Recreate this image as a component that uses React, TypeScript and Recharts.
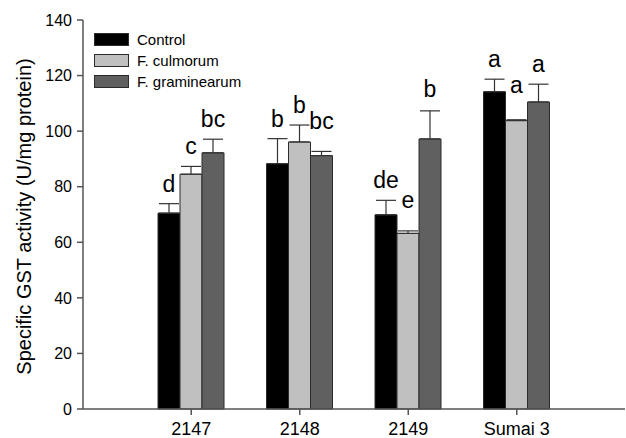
import React from 'react';
import { BarChart, Bar, XAxis, YAxis, ErrorBar, LabelList, Legend } from 'recharts';

// Genotypes along the x axis
const genotypes = ['2147', '2148', '2149', 'Sumai 3'];

// Mean GST activity (U/mg protein) and upper SE
const control = [70.5, 88.3, 69.9, 114.2];
const controlErr = [3.4, 9.0, 5.2, 4.5];
const culmorum = [84.5, 96.1, 63.2, 103.8];
const culmorumErr = [2.8, 6.1, 0.9, 0.3];
const graminearum = [92.2, 91.2, 97.2, 110.5];
const graminearumErr = [4.9, 1.5, 10.1, 6.4];

// Significance letters
const controlLetters = ['d', 'b', 'de', 'a'];
const culmorumLetters = ['c', 'b', 'e', 'a'];
const graminearumLetters = ['bc', 'bc', 'b', 'a'];

const yTicks = [0, 20, 40, 60, 80, 100, 120, 140];

const FONT = '"Liberation Sans", Arial, Helvetica, sans-serif';
const AXIS = '#555';
const OUTLINE = '#2b2b2b';

const series = [
  { key: 'control', name: 'Control', fill: '#000000', letters: controlLetters, errors: controlErr, lift: [0, 0, 0, 0] },
  { key: 'culmorum', name: 'F. culmorum', fill: '#c0c0c0', letters: culmorumLetters, errors: culmorumErr, lift: [0, 0, 11, 15] },
  { key: 'graminearum', name: 'F. graminearum', fill: '#606060', letters: graminearumLetters, errors: graminearumErr, lift: [0, 10, 2, 0] },
];

const data = genotypes.map((name, i) => ({
  name,
  control: control[i],
  controlErr: [0, controlErr[i]],
  culmorum: culmorum[i],
  culmorumErr: [0, culmorumErr[i]],
  graminearum: graminearum[i],
  graminearumErr: [0, graminearumErr[i]],
}));

// letter sitting just above the error bar cap
const letterLabel = (letters: string[], errors: number[], lift: number[]) => (props: any) => {
  const { x, y, width, height, value, index } = props;
  const pxPerUnit = Number(height) / Number(value);
  const errTop = Number(y) - errors[index] * pxPerUnit;
  return (
    <text
      x={Number(x) + Number(width) / 2}
      y={errTop - 12 - lift[index]}
      textAnchor="middle"
      fontSize={23}
      fontFamily={FONT}
      fill="#000"
    >
      {letters[index]}
    </text>
  );
};

const renderLegend = () => (
  <div style={{ fontFamily: FONT, fontSize: 15, color: '#000' }}>
    {series.map((s) => (
      <div key={s.key} style={{ display: 'flex', alignItems: 'center', height: 21 }}>
        <div
          style={{
            width: 33,
            height: 11,
            background: s.fill,
            border: `1px solid ${OUTLINE}`,
            marginRight: 8,
          }}
        />
        <span>{s.name}</span>
      </div>
    ))}
  </div>
);

const YLabel = (props: any) => {
  const vb = props.viewBox || {};
  const cy = vb.y + vb.height / 2 + 2;
  return (
    <text
      x={24}
      y={cy}
      transform={`rotate(-90, 24, ${cy})`}
      textAnchor="middle"
      dominantBaseline="central"
      fontSize={20}
      fontFamily={FONT}
      fill="#000"
    >
      Specific GST activity (U/mg protein)
    </text>
  );
};

export default function App() {
  return (
    <div style={{ position: 'absolute', left: 0, top: 0, width: 626, height: 438, background: '#fff' }}>
      <BarChart
        width={626}
        height={438}
        data={data}
        margin={{ top: 20, right: 1, bottom: 0, left: 0 }}
        barCategoryGap={21}
        barGap={0}
      >
        <XAxis
          dataKey="name"
          padding={{ left: 54, right: 54 }}
          height={29}
          tickSize={6}
          tickMargin={7}
          stroke={AXIS}
          strokeWidth={1.5}
          tick={{ fontSize: 18, fontFamily: FONT, fill: '#000' }}
        />
        <YAxis
          width={83}
          domain={[0, 140]}
          ticks={yTicks}
          interval={0}
          tickSize={6}
          tickMargin={5}
          stroke={AXIS}
          strokeWidth={1.5}
          tick={{ fontSize: 16, fontFamily: FONT, fill: '#000' }}
          label={<YLabel />}
        />
        <Legend
          content={renderLegend}
          layout="horizontal"
          verticalAlign="middle"
          align="center"
          wrapperStyle={{ position: 'absolute', top: 29, left: 94, width: 'auto', height: 'auto' }}
        />
        {series.map((s) => (
          <Bar
            key={s.key}
            dataKey={s.key}
            name={s.name}
            fill={s.fill}
            stroke={OUTLINE}
            strokeWidth={1}
            isAnimationActive={false}
          >
            <ErrorBar dataKey={`${s.key}Err`} direction="y" width={10} stroke="#333" strokeWidth={1.2} />
            <LabelList dataKey={s.key} content={letterLabel(s.letters, s.errors, s.lift)} />
          </Bar>
        ))}
      </BarChart>
    </div>
  );
}
